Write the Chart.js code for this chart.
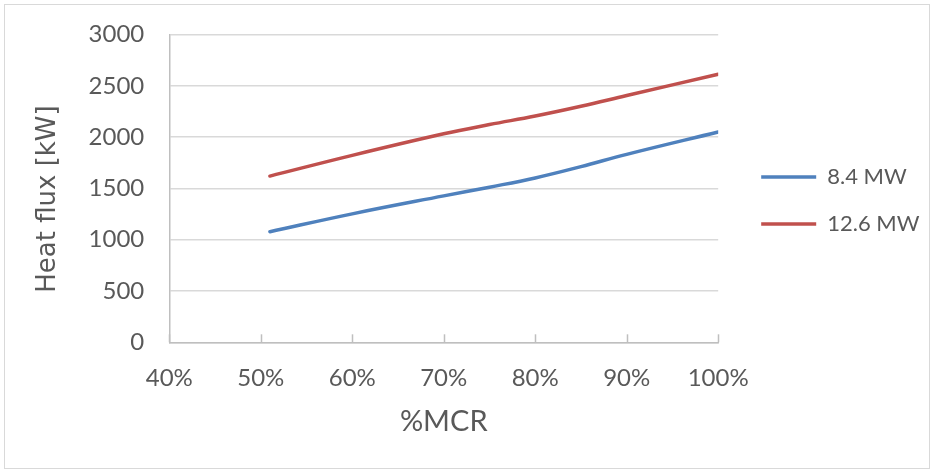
<!DOCTYPE html>
<html>
<head>
<meta charset="utf-8">
<script src="https://cdn.jsdelivr.net/npm/chart.js@4/dist/chart.umd.min.js"></script>
<style>
  html, body { margin: 0; padding: 0; background: #ffffff; }
  #frame { position: absolute; left: 4px; top: 4px; width: 926px; height: 465px;
           border: 1px solid #d9d9d9; box-sizing: border-box; }
  #c { position: absolute; left: 0; top: 0; }
</style>
</head>
<body>
<div id="frame"></div>
<canvas id="c" width="933" height="470"></canvas>
<script>
// Load points (% of maximum continuous rating) and heat flux per boiler size
const loadPct  = [51, 60, 70, 75, 80, 85, 90, 100];
const flux84   = [1078, 1252, 1427, 1512, 1602, 1712, 1832, 2050];
const flux126  = [1620, 1822, 2032, 2122, 2205, 2300, 2405, 2612];
const seriesNames = ['8.4 MW', '12.6 MW'];
const xTickValues = [40, 50, 60, 70, 80, 90, 100];
const yTickValues = [0, 500, 1000, 1500, 2000, 2500, 3000];
const xTitle = '%MCR';
const yTitle = 'Heat flux [kW]';

const TEXT = '#595959';
const AXIS = '#bfbfbf';
const GRID = '#d9d9d9';

const toPoints = (xs, ys) => xs.map((x, i) => ({ x: x, y: ys[i] }));

// Short tick marks rising from the category axis into the plot
const innerTicks = {
  id: 'innerTicks',
  afterDatasetsDraw(chart) {
    const sx = chart.scales.x;
    const bottom = chart.chartArea.bottom;
    const ctx = chart.ctx;
    ctx.save();
    ctx.strokeStyle = AXIS;
    ctx.lineWidth = 1.5;
    sx.ticks.forEach(t => {
      const px = Math.round(sx.getPixelForValue(t.value)) + 0.5;
      ctx.beginPath();
      ctx.moveTo(px, bottom);
      ctx.lineTo(px, bottom - 8);
      ctx.stroke();
    });
    ctx.restore();
  }
};

// Legend sits a little further from the plot and level with the upper half
const legendOffset = {
  id: 'legendOffset',
  afterLayout(chart) {
    const lg = chart.legend;
    lg.left += 18; lg.right += 18;
    lg.top -= 38.5; lg.bottom -= 38.5;
  }
};

new Chart(document.getElementById('c'), {
  type: 'line',
  data: {
    datasets: [
      { label: seriesNames[0], data: toPoints(loadPct, flux84),
        borderColor: '#4F81BD', backgroundColor: '#4F81BD',
        borderWidth: 3.5, pointRadius: 0, tension: 0.4, borderCapStyle: 'round' },
      { label: seriesNames[1], data: toPoints(loadPct, flux126),
        borderColor: '#C0504D', backgroundColor: '#C0504D',
        borderWidth: 3.5, pointRadius: 0, tension: 0.4, borderCapStyle: 'round' }
    ]
  },
  options: {
    responsive: false,
    animation: false,
    layout: { padding: { top: 34.5, left: 28.4, right: 21.5, bottom: 26.6 } },
    plugins: {
      legend: {
        position: 'right',
        labels: {
          usePointStyle: true,
          pointStyle: 'line',
          pointStyleWidth: 55,
          padding: 25,
          color: TEXT,
          font: { family: 'Lato', size: 22 }
        }
      },
      tooltip: { enabled: false }
    },
    scales: {
      x: {
        type: 'linear',
        min: xTickValues[0], max: xTickValues[xTickValues.length - 1],
        afterBuildTicks: s => { s.ticks = xTickValues.map(v => ({ value: v })); },
        ticks: { color: TEXT, font: { family: 'Lato', size: 24 }, padding: 11.5,
                 callback: v => v + '%' },
        grid: { drawOnChartArea: false, drawTicks: true, tickLength: 10.5,
                tickColor: 'rgba(0,0,0,0)' },
        border: { color: AXIS, width: 1.5 },
        title: { display: true, text: xTitle, color: TEXT,
                 font: { family: 'Lato', size: 29 }, padding: { top: 0, bottom: 4 } }
      },
      y: {
        min: yTickValues[0], max: yTickValues[yTickValues.length - 1],
        afterBuildTicks: s => { s.ticks = yTickValues.map(v => ({ value: v })); },
        ticks: { color: TEXT, font: { family: 'Lato', size: 24 }, padding: 17,
                 callback: v => String(v) },
        grid: { color: GRID, lineWidth: 1.5, drawTicks: true, tickLength: 8,
                tickColor: 'rgba(0,0,0,0)' },
        border: { color: AXIS, width: 1.5 },
        title: { display: true, text: yTitle + '\u2002 ', color: TEXT,
                 font: { family: 'DejaVu Sans', size: 26 }, padding: { top: 4, bottom: 8 } }
      }
    }
  },
  plugins: [innerTicks, legendOffset]
});
</script>
</body>
</html>
